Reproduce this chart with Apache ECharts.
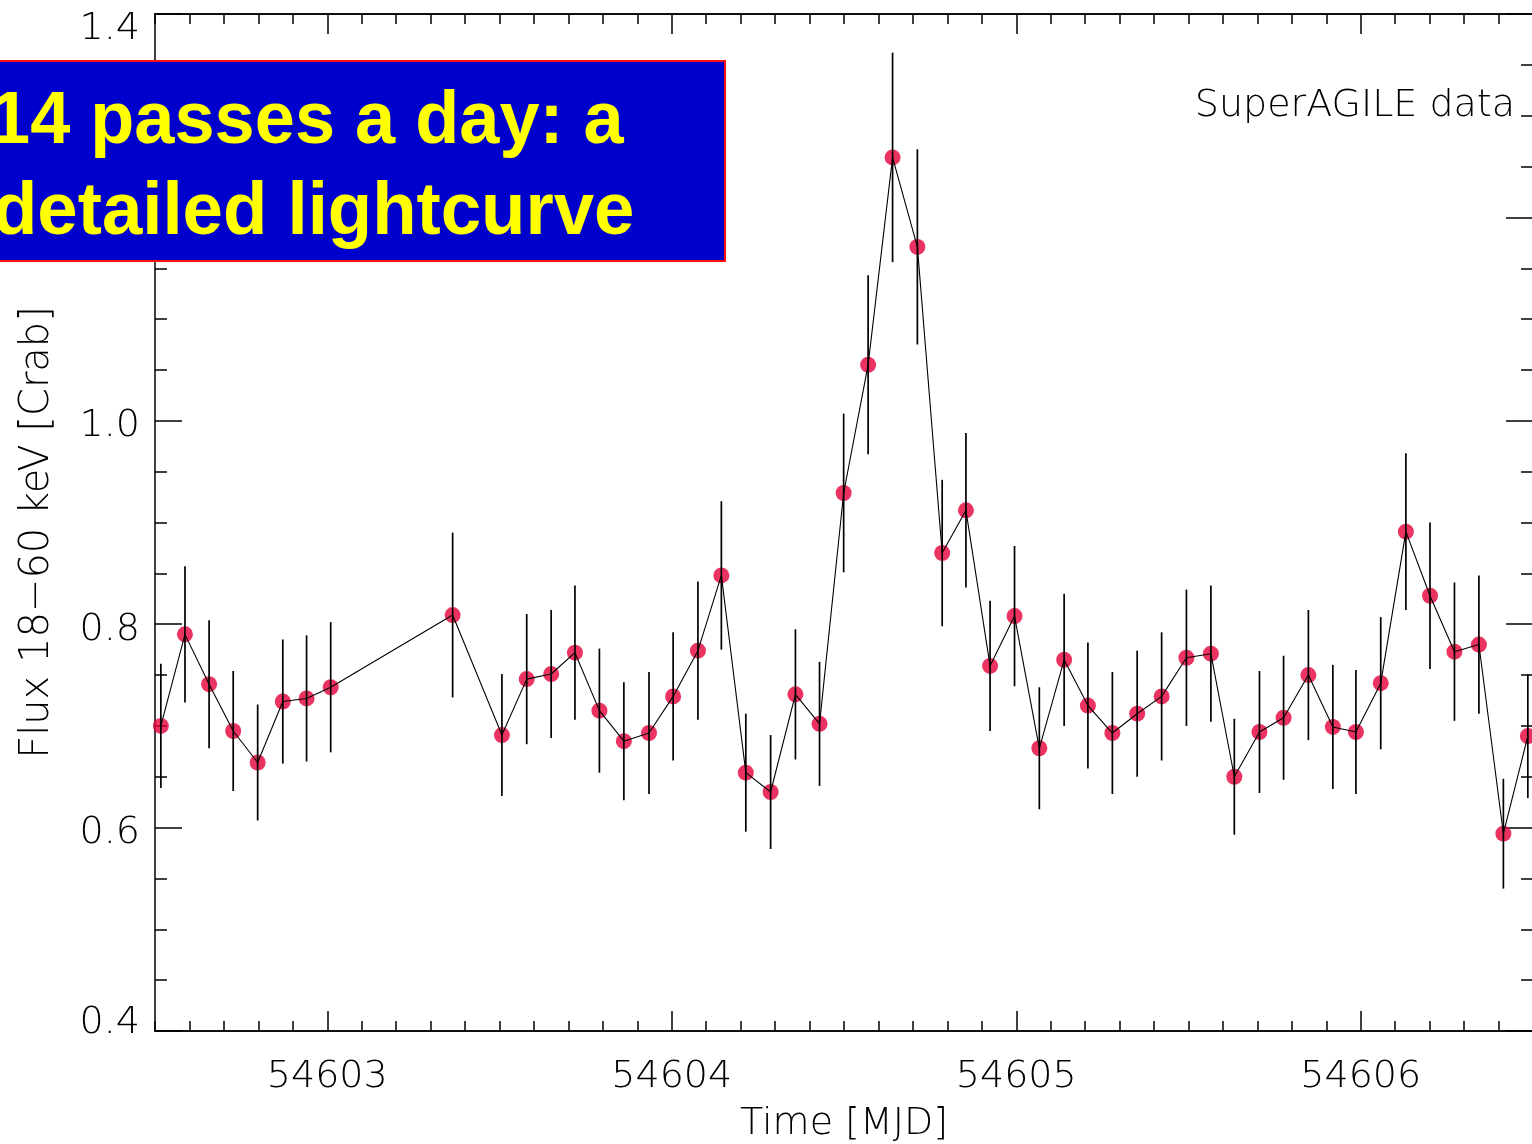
<!DOCTYPE html>
<html><head><meta charset="utf-8">
<script src="https://cdn.jsdelivr.net/npm/echarts/dist/echarts.min.js"></script>
<style>html,body{margin:0;padding:0;background:#fff}#c{width:1532px;height:1144px}</style>
</head><body><div id="c"></div>
<script>
// ---- data ----
const mjd = [54602.517,54602.587,54602.657,54602.727,54602.798,54602.871,54602.940,54603.010,
  54603.364,54603.507,54603.579,54603.650,54603.719,54603.790,54603.861,54603.934,54604.004,
  54604.076,54604.144,54604.215,54604.287,54604.359,54604.429,54604.499,54604.570,54604.641,
  54604.713,54604.785,54604.854,54604.924,54604.995,54605.067,54605.139,54605.208,54605.279,
  54605.351,54605.422,54605.494,54605.565,54605.633,54605.706,54605.776,54605.848,54605.919,
  54605.986,54606.058,54606.131,54606.201,54606.272,54606.343,54606.414,54606.485];
const flux = [0.700,0.790,0.741,0.695,0.664,0.724,0.727,0.738,
  0.809,0.691,0.746,0.751,0.772,0.715,0.685,0.693,0.729,
  0.774,0.848,0.654,0.635,0.731,0.702,0.929,1.055,1.259,
  1.171,0.870,0.912,0.759,0.808,0.678,0.765,0.720,0.693,
  0.712,0.729,0.767,0.771,0.650,0.694,0.708,0.750,0.699,
  0.694,0.742,0.891,0.828,0.773,0.780,0.594,0.690];
const fluxErr = [0.061,0.067,0.063,0.059,0.057,0.061,0.062,0.064,
  0.081,0.060,0.064,0.063,0.066,0.061,0.058,0.060,0.063,
  0.068,0.073,0.058,0.056,0.064,0.061,0.078,0.088,0.103,
  0.096,0.072,0.076,0.064,0.069,0.060,0.065,0.062,0.060,
  0.062,0.063,0.067,0.067,0.057,0.060,0.061,0.064,0.061,
  0.061,0.065,0.077,0.072,0.068,0.068,0.054,0.061];
const xLabels = [54603, 54604, 54605, 54606];
const xRange = [54602.5, 54606.5];
const yRange = [0.4, 1.4];
const yStep = 0.2;
const xTitle = 'Time [MJD]';
const yTitle = 'Flux 18\u221260 keV [Crab]';
const noteText = 'SuperAGILE data';
const bannerLines = ['14 passes a day: a', 'detailed lightcurve'];

// ---- chart ----
const FONT = "'DejaVu Sans', sans-serif";
const FW = 200;
const axisLine = {show: true, lineStyle: {color: '#000', width: 1.5}};
const tickStyle = {color: '#000', width: 1.5};
const labTxt = {color: '#000', fontFamily: FONT, fontSize: 38, fontWeight: FW};

function xMajor(pos, labels) {
  return {
    type: 'value', position: pos, min: xRange[0], max: xRange[1],
    axisLine: axisLine, splitLine: {show: false},
    axisTick: {show: true, inside: true, length: 20, lineStyle: tickStyle, customValues: xLabels},
    axisLabel: Object.assign({show: labels, customValues: xLabels, margin: 27,
      formatter: v => String(Math.round(v))}, labTxt),
    name: labels ? xTitle : '', nameLocation: 'middle', nameGap: 74,
    nameTextStyle: Object.assign({}, labTxt)
  };
}
function xMinor(pos) {
  return {
    type: 'value', position: pos, min: xRange[0], max: xRange[1], interval: 0.5,
    axisLine: axisLine, splitLine: {show: false},
    axisTick: {show: true, inside: true, length: 10, lineStyle: tickStyle},
    minorTick: {show: true, splitNumber: 5, length: 10, lineStyle: tickStyle},
    axisLabel: {show: false}
  };
}
function yAx(pos, labels) {
  return {
    type: 'value', position: pos, min: yRange[0], max: yRange[1], interval: yStep,
    axisLine: axisLine, splitLine: {show: false},
    axisTick: {show: true, inside: true, length: 27, lineStyle: tickStyle},
    minorTick: {show: true, splitNumber: 4, length: 12, lineStyle: tickStyle},
    axisLabel: Object.assign({show: labels, margin: 15, showMinLabel: true, showMaxLabel: true,
      formatter: v => {
        const s = v.toFixed(1);
        if (Math.abs(v - yRange[1]) < 1e-9) return '{mx|' + s + '}';
        if (Math.abs(v - yRange[0]) < 1e-9) return '{mn|' + s + '}';
        return '{md|' + s + '}';
      },
      rich: {
        mx: Object.assign({padding: [31, 0, 0, 0]}, labTxt),
        mn: Object.assign({padding: [0, 0, 16, 0]}, labTxt),
        md: Object.assign({padding: [11, 0, 0, 0]}, labTxt)
      }}, labTxt),
    name: labels ? yTitle : '', nameLocation: 'middle', nameGap: 97,
    nameTextStyle: Object.assign({}, labTxt, {fontSize: 40, padding: [0, 20, 0, 0]})
  };
}

const pts = mjd.map((t, i) => [t, flux[i]]);
const bars = mjd.map((t, i) => [t, flux[i] - fluxErr[i], flux[i] + fluxErr[i]]);

const bannerFont = "bold 74px 'Liberation Sans', Arial, sans-serif";
const option = {
  animation: false,
  backgroundColor: '#fff',
  grid: {left: 155, right: -1, top: 14, bottom: 113, containLabel: false, outerBoundsMode: 'none'},
  xAxis: [xMajor('bottom', true), xMinor('bottom'), xMajor('top', false), xMinor('top')],
  yAxis: [yAx('left', true), yAx('right', false)],
  series: [
    {type: 'scatter', xAxisIndex: 0, yAxisIndex: 0, data: pts, symbol: 'circle', symbolSize: 16,
      itemStyle: {color: '#e6003a'}, z: 2},
    {type: 'custom', xAxisIndex: 0, yAxisIndex: 0, data: bars, z: 3,
      renderItem: function (params, api) {
        const a = api.coord([api.value(0), api.value(1)]);
        const b = api.coord([api.value(0), api.value(2)]);
        return {type: 'line', shape: {x1: a[0], y1: a[1], x2: b[0], y2: b[1]},
          style: {stroke: '#000', lineWidth: 1.7}};
      }},
    {type: 'line', xAxisIndex: 0, yAxisIndex: 0, data: pts, symbol: 'none', z: 4,
      lineStyle: {color: '#000', width: 1.1}}
  ],
  graphic: [
    {type: 'rect', z: 100, shape: {x: -3, y: 61, width: 728, height: 200},
      style: {fill: '#0000cc', stroke: '#ff1010', lineWidth: 2}},
    {type: 'text', z: 101, x: -10, y: 123, scaleX: 0.975,
      style: {text: bannerLines[0], fill: '#ffff00', font: bannerFont,
        textAlign: 'left', align: 'left', textVerticalAlign: 'middle', verticalAlign: 'middle'}},
    {type: 'text', z: 101, x: -7, y: 214, scaleX: 0.981,
      style: {text: bannerLines[1], fill: '#ffff00', font: bannerFont,
        textAlign: 'left', align: 'left', textVerticalAlign: 'middle', verticalAlign: 'middle'}},
    {type: 'text', z: 50, x: 1515, y: 106,
      style: {text: noteText, fill: '#000', font: "200 38px 'DejaVu Sans', sans-serif",
        textAlign: 'right', align: 'right', textVerticalAlign: 'middle', verticalAlign: 'middle'}}
  ]
};
const chart = echarts.init(document.getElementById('c'), null, {renderer: 'canvas'});
chart.setOption(option);
</script>
</body></html>
